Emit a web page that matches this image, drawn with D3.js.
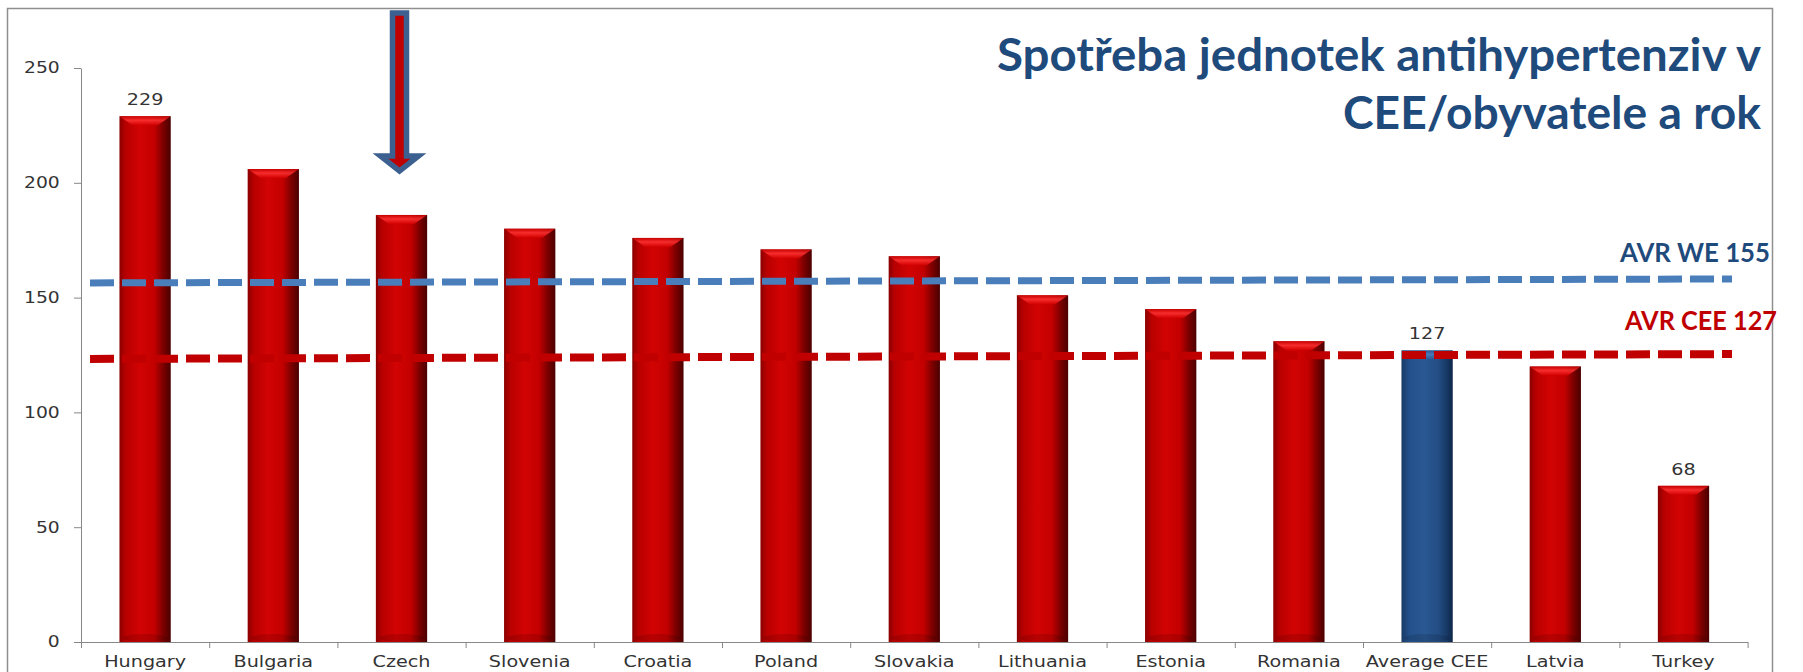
<!DOCTYPE html>
<html>
<head>
<meta charset="utf-8">
<script src="https://cdn.jsdelivr.net/npm/d3@7"></script>
<style>
html, body { margin: 0; padding: 0; background: #fff; }
svg { display: block; }
</style>
</head>
<body>
<script>
// chart values
var countries = ["Hungary", "Bulgaria", "Czech", "Slovenia", "Croatia", "Poland", "Slovakia",
  "Lithuania", "Estonia", "Romania", "Average CEE", "Latvia", "Turkey"];
var units = [229, 206, 186, 180, 176, 171, 168, 151, 145, 131, 127, 120, 68];
var labelled = ["Hungary", "Average CEE", "Turkey"];
var highlighted = "Average CEE";
var arrowTarget = "Czech";
var yTicks = [0, 50, 100, 150, 200, 250];
var titleLines = ["Spotřeba jednotek antihypertenziv v", "CEE/obyvatele a rok"];
// reference lines (hand drawn in the original, slightly tilted)
var refNames = ["AVR WE 155", "AVR CEE 127"];
var refStart = [156.4, 123.3];
var refEnd = [158.1, 125.4];

var W = 1803, H = 672;
var textFont = "'DejaVu Sans', Verdana, sans-serif";
var titleFont = "Lato, 'Open Sans', sans-serif";

var svg = d3.select("body").append("svg")
  .attr("width", W)
  .attr("height", H);

var x = d3.scaleBand()
  .domain(countries)
  .range([81, 1747.6])
  .paddingInner(0.6)
  .paddingOuter(0.3);
var y = d3.scaleLinear().domain([0, 250]).range([642, 68]);
var bw = x.bandwidth();

// gradients for the cylinder look
var defs = svg.append("defs");
function hGrad(id, stops) {
  var g = defs.append("linearGradient").attr("id", id)
    .attr("x1", "0%").attr("x2", "100%").attr("y1", "0%").attr("y2", "0%");
  stops.forEach(function (s) {
    g.append("stop").attr("offset", s[0]).attr("stop-color", s[1]);
  });
}
function vGrad(id, stops) {
  var g = defs.append("linearGradient").attr("id", id)
    .attr("x1", "0%").attr("x2", "0%").attr("y1", "0%").attr("y2", "100%");
  stops.forEach(function (s) {
    g.append("stop").attr("offset", s[0]).attr("stop-color", s[1]);
  });
}
hGrad("redBar", [["0%", "#8a0000"], ["12%", "#b80000"], ["40%", "#d20303"], ["68%", "#c30000"], ["85%", "#7c0000"], ["100%", "#4a0000"]]);
hGrad("blueBar", [["0%", "#163a66"], ["15%", "#23508a"], ["45%", "#2a5892"], ["72%", "#234d84"], ["88%", "#173a66"], ["100%", "#0e2648"]]);
vGrad("redCap", [["0%", "#c80000"], ["45%", "#ff3434"], ["100%", "#d40000"]]);
vGrad("blueCap", [["0%", "#2a5892"], ["45%", "#4f7fbf"], ["100%", "#2a5892"]]);

// outer frame
svg.append("rect")
  .attr("x", 7.5).attr("y", 8.5)
  .attr("width", 1765).attr("height", 700)
  .attr("fill", "none")
  .attr("stroke", "#8f8f8f")
  .attr("stroke-width", 1.5);

// bars
var rows = countries.map(function (c, i) { return { name: c, value: units[i] }; });
var bars = svg.append("g").selectAll("g").data(rows).enter().append("g");
bars.append("rect")
  .attr("x", function (d) { return x(d.name); })
  .attr("y", function (d) { return y(d.value); })
  .attr("width", bw)
  .attr("height", function (d) { return y(0) - y(d.value); })
  .attr("fill", function (d) { return d.name === highlighted ? "url(#blueBar)" : "url(#redBar)"; });
bars.append("path")
  .attr("d", function (d) {
    var x0 = x(d.name), x1 = x0 + bw, t = y(d.value);
    return "M" + x0 + "," + t + "L" + x1 + "," + t + "L" + (x1 - 13) + "," + (t + 9) +
      "L" + (x0 + 13) + "," + (t + 9) + "Z";
  })
  .attr("fill", function (d) { return d.name === highlighted ? "url(#blueCap)" : "url(#redCap)"; })
  .attr("opacity", 0.85);
bars.append("ellipse")
  .attr("cx", function (d) { return x(d.name) + bw / 2; })
  .attr("cy", y(0) - 4)
  .attr("rx", bw / 2 - 3)
  .attr("ry", 4)
  .attr("fill", "#000")
  .attr("opacity", 0.12);

// y axis
var yAxis = svg.append("g")
  .attr("transform", "translate(81,0)")
  .call(d3.axisLeft(y).tickValues(yTicks).tickSize(7).tickSizeOuter(0).tickPadding(10));
yAxis.selectAll("path, line").attr("stroke", "#888");
yAxis.selectAll("text")
  .attr("font-family", textFont)
  .attr("font-size", 15)
  .attr("fill", "#333")
  .attr("transform", "scale(1.25,1)");

// x axis: ticks between categories, labels at centres
var xb = d3.scaleLinear().domain([0, countries.length]).range(x.range());
var xTicks = svg.append("g")
  .attr("transform", "translate(0," + y(0) + ")")
  .call(d3.axisBottom(xb).tickValues(d3.range(countries.length + 1)).tickFormat("").tickSize(6).tickSizeOuter(0));
xTicks.selectAll("path, line").attr("stroke", "#888");
var xLabels = svg.append("g")
  .attr("transform", "translate(0," + y(0) + ")")
  .call(d3.axisBottom(x).tickSize(0).tickPadding(13.6));
xLabels.select(".domain").remove();
xLabels.selectAll("text")
  .attr("font-family", textFont)
  .attr("font-size", 16)
  .attr("fill", "#333")
  .attr("transform", "scale(1.2,1)");

// value labels on a few bars
svg.append("g").selectAll("text")
  .data(rows.filter(function (d) { return labelled.indexOf(d.name) >= 0; }))
  .enter().append("text")
  .attr("transform", function (d) {
    return "translate(" + (x(d.name) + bw / 2) + "," + (y(d.value) - 11) + ") scale(1.2,1)";
  })
  .attr("text-anchor", "middle")
  .attr("font-family", textFont)
  .attr("font-size", 16)
  .attr("fill", "#333")
  .text(function (d) { return d.value; });

// dashed reference lines
var refColors = ["#4a7ebb", "#c00000"];
var refWidths = [7, 8];
refNames.forEach(function (name, i) {
  svg.append("line")
    .attr("x1", 90).attr("x2", 1732)
    .attr("y1", y(refStart[i])).attr("y2", y(refEnd[i]))
    .attr("stroke", refColors[i])
    .attr("stroke-width", refWidths[i])
    .attr("stroke-dasharray", "24 8");
});
var refLabelX = [1770, 1777];
var refLabelY = [262, 330];
var refLabelColors = ["#1f4a7c", "#c00000"];
refNames.forEach(function (name, i) {
  svg.append("text")
    .attr("x", refLabelX[i]).attr("y", refLabelY[i])
    .attr("text-anchor", "end")
    .attr("font-family", titleFont)
    .attr("font-weight", "bold")
    .attr("font-size", 27)
    .attr("textLength", i === 0 ? 150 : 152)
    .attr("lengthAdjust", "spacingAndGlyphs")
    .attr("fill", refLabelColors[i])
    .text(name);
});

// title
var titleY = [71, 129];
var titleLen = [764, 418];
titleLines.forEach(function (line, i) {
  svg.append("text")
    .attr("x", 1761).attr("y", titleY[i])
    .attr("text-anchor", "end")
    .attr("font-family", titleFont)
    .attr("font-weight", "bold")
    .attr("font-size", 45)
    .attr("textLength", titleLen[i])
    .attr("lengthAdjust", "spacingAndGlyphs")
    .attr("fill", "#1f4a7c")
    .text(line);
});

// arrow pointing at the Czech bar
var ax = x(arrowTarget) + bw / 2 - 2;
svg.append("path")
  .attr("d", "M" + (ax - 7) + ",13L" + (ax + 7) + ",13L" + (ax + 7) + ",156L" + (ax + 19) + ",156L" +
    ax + ",171L" + (ax - 19) + ",156L" + (ax - 7) + ",156Z")
  .attr("fill", "#c00000")
  .attr("stroke", "#3c6090")
  .attr("stroke-width", 5.5)
  .attr("stroke-linejoin", "miter");
</script>
</body>
</html>
